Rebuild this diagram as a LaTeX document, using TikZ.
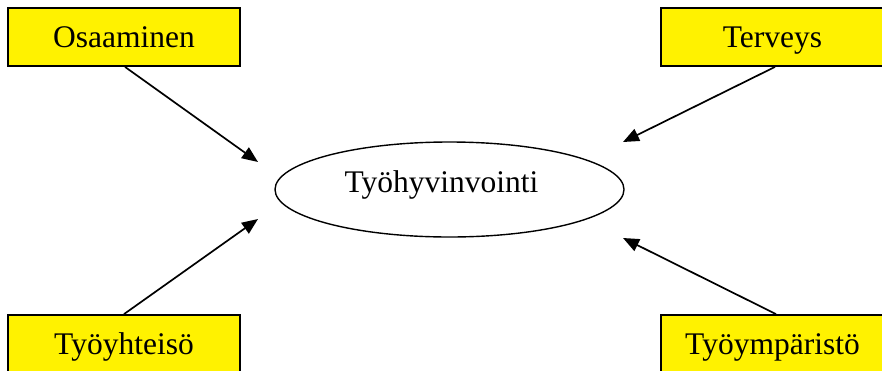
\documentclass[tikz,border=0pt]{standalone}
\usepackage{fontspec}
\setmainfont{Liberation Serif}
\usetikzlibrary{shapes.geometric,arrows.meta}
\begin{document}
\begin{tikzpicture}[x=1pt,y=-1pt,
  factor/.style={draw=black,line width=1.8pt,fill=yellow,rectangle,
    minimum width=232pt,minimum height=58pt,inner sep=0pt,
    font=\fontsize{31.5}{36}\selectfont,text height=21pt,text depth=0pt},
  influence/.style={line width=1.7pt,-{Triangle[length=16pt,width=13pt]}}]
  \useasboundingbox (0,0) rectangle (882,370);
  \begin{scope}
    \clip (0,0) rectangle (882,370);
    % factor boxes
    \node[factor] (osa) at (124,37) {Osaaminen};
    \node[factor,minimum width=223pt] (ter) at (772.5,37) {Terveys};
    \node[factor] (yht) at (124,344) {Työyhteisö};
    \node[factor,minimum width=223pt] (ymp) at (772.5,344) {Työympäristö};
    % central concept
    \node[ellipse,draw=black,line width=1.4pt,minimum width=349pt,
      minimum height=95pt,inner sep=0pt] (core) at (449.5,189.5) {};
    \node[font=\fontsize{31.5}{36}\selectfont,text height=21pt,text depth=0pt,
      inner sep=0pt] (coretext) at (441.5,182) {Työhyvinvointi};
    % arrow ends
    \coordinate (tipA) at (258,162);
    \coordinate (tipB) at (623,142);
    \coordinate (tipC) at (258,219);
    \coordinate (tipD) at (623,238);
    \draw[influence] ([xshift=1pt]osa.south) -- (tipA);
    \draw[influence] ([xshift=2.5pt]ter.south) -- (tipB);
    \draw[influence] (yht.north) -- (tipC);
    \draw[influence] ([xshift=3.5pt]ymp.north) -- (tipD);
  \end{scope}
\end{tikzpicture}
\end{document}
